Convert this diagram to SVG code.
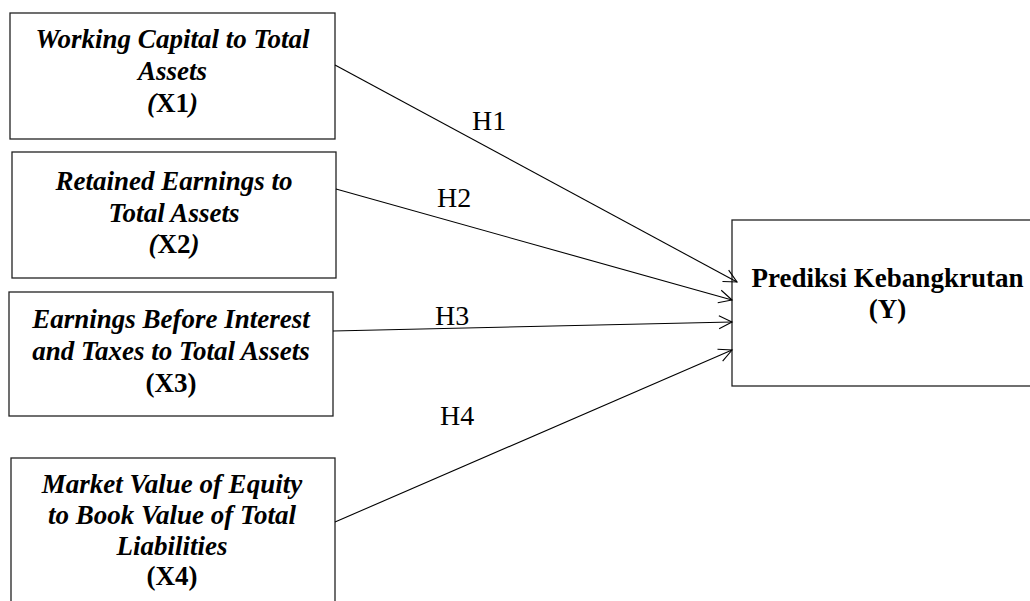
<svg xmlns="http://www.w3.org/2000/svg" width="1030" height="601" viewBox="0 0 1030 601">
<style>
.box{fill:#fff;stroke:#222;stroke-width:1.3}
.t{font-family:"Liberation Serif",serif;font-size:27px;font-weight:bold;font-style:italic;text-anchor:middle;fill:#000}
.b{font-family:"Liberation Serif",serif;font-size:27px;font-weight:bold;text-anchor:middle;fill:#000}
.up{font-style:normal}
.h{font-family:"Liberation Serif",serif;font-size:28px;fill:#000}
.c{stroke:#000;stroke-width:1.1;fill:none}
</style>
<defs>
<marker id="arr" markerUnits="userSpaceOnUse" markerWidth="16" markerHeight="16" refX="14" refY="8" orient="auto" viewBox="0 0 16 16">
<path d="M1,1.5 L14,8 L1,14.5" fill="none" stroke="#000" stroke-width="1.1"/>
</marker>
</defs>
<rect width="1030" height="601" fill="#fff"/>
<g id="x1">
<rect class="box" x="10" y="13" width="325" height="126"/>
<text class="t" x="172.5" y="48">Working Capital to Total</text>
<text class="t" x="172.5" y="80">Assets</text>
<text class="t" x="172.5" y="112">(<tspan class="up">X1</tspan>)</text>
</g>
<g id="x2">
<rect class="box" x="12" y="152" width="324" height="126"/>
<text class="t" x="174" y="190">Retained Earnings to</text>
<text class="t" x="174" y="222">Total Assets</text>
<text class="t" x="174" y="253">(<tspan class="up">X2</tspan>)</text>
</g>
<g id="x3">
<rect class="box" x="9" y="292" width="324" height="124"/>
<text class="t" x="171" y="328">Earnings Before Interest</text>
<text class="t" x="171" y="360">and Taxes to Total Assets</text>
<text class="b" x="171" y="392">(X3)</text>
</g>
<g id="x4">
<rect class="box" x="11" y="458" width="324" height="160"/>
<text class="t" x="172" y="493">Market Value of Equity</text>
<text class="t" x="172" y="524">to Book Value of Total</text>
<text class="t" x="172" y="555">Liabilities</text>
<text class="b" x="172" y="585">(X4)</text>
</g>
<g id="y">
<rect class="box" x="732" y="220" width="310" height="166"/>
<text class="b" x="887.5" y="287">Prediksi Kebangkrutan</text>
<text class="b" x="887.5" y="318">(Y)</text>
</g>
<g id="connectors">
<line class="c" x1="335" y1="65" x2="737" y2="282" marker-end="url(#arr)"/>
<line class="c" x1="336" y1="189" x2="732" y2="300" marker-end="url(#arr)"/>
<line class="c" x1="333" y1="331" x2="732" y2="322" marker-end="url(#arr)"/>
<line class="c" x1="335" y1="522" x2="732" y2="350" marker-end="url(#arr)"/>
<text class="h" x="472" y="130">H1</text>
<text class="h" x="437" y="207">H2</text>
<text class="h" x="435" y="325">H3</text>
<text class="h" x="440" y="425">H4</text>
</g>
</svg>
